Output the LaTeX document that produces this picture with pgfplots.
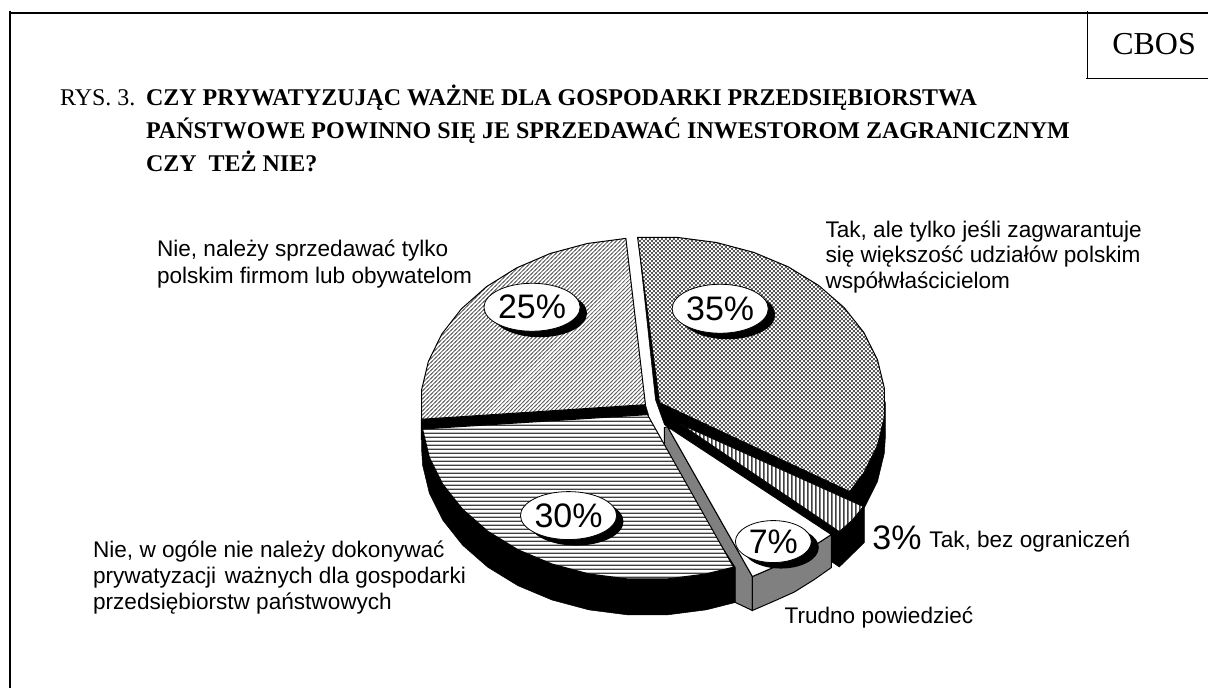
\documentclass[border=0pt]{standalone}
\usepackage{pgfplots}
\pgfplotsset{compat=1.18}
\usepackage{fontspec}
\setmainfont{Liberation Sans}
\newfontfamily\tms{Liberation Serif}
\usetikzlibrary{patterns,shapes.geometric}
\pgfdeclarepatternformonly{chk}{\pgfqpoint{0pt}{0pt}}{\pgfqpoint{4pt}{4pt}}{\pgfqpoint{4pt}{4pt}}{\pgfpathrectangle{\pgfqpoint{0pt}{0pt}}{\pgfqpoint{2pt}{2pt}}\pgfpathrectangle{\pgfqpoint{2pt}{2pt}}{\pgfqpoint{2pt}{2pt}}\pgfusepath{fill}}
\pgfdeclarepatternformonly{diag}{\pgfqpoint{-1pt}{-1pt}}{\pgfqpoint{5pt}{5pt}}{\pgfqpoint{4pt}{4pt}}{\pgfsetlinewidth{0.7pt}\pgfpathmoveto{\pgfqpoint{-1pt}{-1pt}}\pgfpathlineto{\pgfqpoint{5pt}{5pt}}\pgfusepath{stroke}}
\pgfdeclarepatternformonly{hor}{\pgfqpoint{0pt}{0pt}}{\pgfqpoint{4pt}{4pt}}{\pgfqpoint{4pt}{4pt}}{\pgfpathrectangle{\pgfqpoint{0pt}{0pt}}{\pgfqpoint{4pt}{1.5pt}}\pgfusepath{fill}}
\pgfdeclarepatternformonly{ver}{\pgfqpoint{0pt}{0pt}}{\pgfqpoint{4pt}{4pt}}{\pgfqpoint{4pt}{4pt}}{\pgfpathrectangle{\pgfqpoint{0pt}{0pt}}{\pgfqpoint{1.6pt}{4pt}}\pgfusepath{fill}}
\definecolor{sidegray}{HTML}{808080}
\newcommand{\lab}[3]{\node[anchor=base west,inner sep=0pt,font=\fontsize{22.6}{23}\selectfont] at (axis cs:#1,#2) {#3};}
\newcommand{\ttl}[3]{\node[anchor=base west,inner sep=0pt,font=\fontsize{24}{24}\selectfont\tms] at (axis cs:#1,#2) {#3};}
\newcommand{\bub}[5]{%
\node[ellipse,fill=black,inner sep=0pt,minimum width=#3pt,minimum height=#4pt] at (axis cs:#1+7.5,#2+6) {};
\node[ellipse,draw=black,line width=0.8pt,fill=white,inner sep=0pt,minimum width=#3pt,minimum height=#4pt,font=\fontsize{34}{34}\selectfont] at (axis cs:#1,#2) {#5};}
\begin{document}
\begin{tikzpicture}
\begin{axis}[hide axis,scale only axis,width=1209pt,height=689pt,xmin=0,xmax=1209,ymin=0,ymax=689,y dir=reverse,clip=false]
\path (axis cs:0,0) rectangle (axis cs:1209,689);
% frame
\addplot[black,line width=2pt,mark=none] coordinates {(10,13) (1209,13)};
\addplot[black,line width=2pt,mark=none] coordinates {(10,11) (10,689)};
\addplot[black,line width=1.6pt,mark=none] coordinates {(1088.5,11) (1088.5,78.5)};
\addplot[black,line width=1.6pt,mark=none] coordinates {(1087,78.5) (1209,78.5)};
% 25% cut face
\addplot[fill=black,draw=black,line width=0.5pt,mark=none] coordinates {(421.5,419.6) (646,405) (649,415) (649,430) (421.5,440)} -- cycle;
% 35% and 3% sides and cut faces
\addplot[fill=black,draw=black,line width=0.5pt,mark=none] coordinates {(639,242) (656,400) (665,425) (668,427) (832,535) (832,562) (840,567.5) (865,543) (865,507) (864.6,509.2) (878.2,482) (885.1,453.5) (886,439) (886,403) (851,492) (660,403)} -- cycle;
% 7% cut and front faces
\addplot[fill=sidegray,draw=black,line width=1pt,mark=none] coordinates {(665,428) (668,427) (753,577) (753,611) (736,603) (700,560) (665,445)} -- cycle;
\addplot[fill=sidegray,draw=black,line width=1pt,mark=none] coordinates {(753,577) (775,567.5) (795,558.5) (815,546) (832,535) (832,568) (815,580) (795,592.5) (775,601.5) (753,611)} -- cycle;
% 30% side
\addplot[fill=black,draw=black,line width=0.5pt,mark=none] coordinates {(422,415) (422,451) (422.9,465.4) (429.7,493.7) (443.2,520.7) (462.9,545.6) (488.2,567.7) (518.4,586.2) (552.5,600.5) (589.5,610.4) (628.3,615.4) (667.7,615.4) (706.5,610.4) (736,603) (736,568) (648,430)} -- cycle;
% top faces
\addplot[fill=white,draw=none,mark=none] coordinates {(646,405) (421.9,419.6) (421.9,390.4) (428.7,361.8) (442.1,334.4) (461.7,309.2) (486.9,286.9) (516.9,268.2) (550.9,253.6) (587.8,243.7) (626.4,238.6)} -- cycle;
\addplot[pattern=diag,pattern color=black!65,draw=black,line width=1pt,mark=none] coordinates {(646,405) (421.9,419.6) (421.9,390.4) (428.7,361.8) (442.1,334.4) (461.7,309.2) (486.9,286.9) (516.9,268.2) (550.9,253.6) (587.8,243.7) (626.4,238.6)} -- cycle;
\addplot[fill=white,draw=none,mark=none] coordinates {(648,415) (422.9,429.4) (429.7,457.7) (443.2,484.7) (462.9,509.6) (488.2,531.7) (518.4,550.2) (552.5,564.5) (589.5,574.4) (628.3,579.4) (667.7,579.4) (706.5,574.4) (734.1,567.6)} -- cycle;
\addplot[pattern=hor,pattern color=black!75,draw=black,line width=1pt,mark=none] coordinates {(648,415) (422.9,429.4) (429.7,457.7) (443.2,484.7) (462.9,509.6) (488.2,531.7) (518.4,550.2) (552.5,564.5) (589.5,574.4) (628.3,579.4) (667.7,579.4) (706.5,574.4) (734.1,567.6)} -- cycle;
\addplot[fill=white,draw=none,mark=none] coordinates {(660,403) (638.1,237.6) (677.9,237.6) (717,242.7) (754.4,252.6) (788.8,267) (819.2,285.6) (844.8,307.8) (864.6,332.8) (878.2,360) (885.1,388.5) (885.1,417.5) (878.2,446) (864.6,473.2) (850.4,492)} -- cycle;
\addplot[pattern=chk,pattern color=black!65,draw=black,line width=1pt,mark=none] coordinates {(660,403) (638.1,237.6) (677.9,237.6) (717,242.7) (754.4,252.6) (788.8,267) (819.2,285.6) (844.8,307.8) (864.6,332.8) (878.2,360) (885.1,388.5) (885.1,417.5) (878.2,446) (864.6,473.2) (850.4,492)} -- cycle;
\addplot[fill=white,draw=none,mark=none] coordinates {(682,425) (864,507) (853,520.5) (840,532)} -- cycle;
\addplot[pattern=ver,pattern color=black!75,draw=black,line width=0.8pt,mark=none] coordinates {(682,425) (864,507) (853,520.5) (840,532)} -- cycle;
\addplot[fill=white,draw=black,line width=1pt,mark=none] coordinates {(668,427) (832,535) (815,546) (795,558.5) (775,567.5) (753,577)} -- cycle;
% value bubbles
\bub{532.5}{307.5}{95}{48}{25\%}
\bub{720.8}{309}{95}{49}{35\%}
\bub{569}{516}{95}{48}{30\%}
\bub{774}{542}{76}{42}{7\%}
% title
\ttl{60}{106}{RYS. 3.}
\ttl{146}{106}{\bfseries CZY PRYWATYZUJĄC WAŻNE DLA GOSPODARKI PRZEDSIĘBIORSTWA}
\ttl{146}{139}{\bfseries PAŃSTWOWE POWINNO SIĘ JE SPRZEDAWAĆ INWESTOROM ZAGRANICZNYM}
\ttl{146}{172}{\bfseries CZY\ \ TEŻ NIE?}
\node[anchor=base west,inner sep=0pt,font=\fontsize{32}{32}\selectfont\tms] at (axis cs:1113,55) {CBOS};
% labels
\lab{157}{257}{Nie, należy sprzedawać tylko}
\lab{157}{284}{polskim firmom lub obywatelom}
\lab{826}{238}{Tak, ale tylko jeśli zagwarantuje}
\lab{826}{263}{się większość udziałów polskim}
\lab{826}{289}{współwłaścicielom}
\node[anchor=base west,inner sep=0pt,font=\fontsize{34}{34}\selectfont] at (axis cs:873,550) {3\%};
\lab{930}{548}{Tak, bez ograniczeń}
\lab{785}{624}{Trudno powiedzieć}
\lab{93}{558}{Nie, w ogóle nie należy dokonywać}
\lab{93}{584}{prywatyzacji\ \kern2.5pt ważnych dla gospodarki}
\lab{93}{610}{przedsiębiorstw państwowych}
\end{axis}
\end{tikzpicture}
\end{document}
